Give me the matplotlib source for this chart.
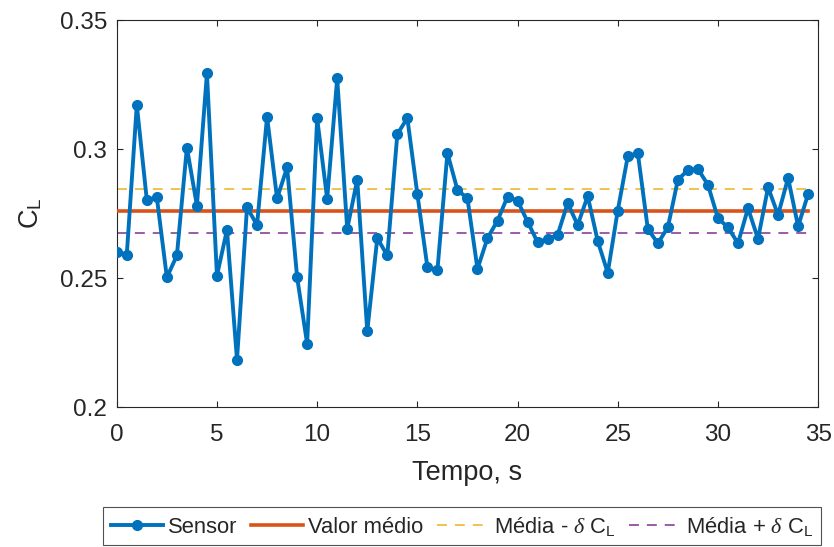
import numpy as np
import matplotlib
matplotlib.use("Agg")
import matplotlib.pyplot as plt

plt.rcParams['font.family'] = ['Liberation Sans', 'DejaVu Sans']
plt.rcParams['mathtext.fontset'] = 'custom'
plt.rcParams['mathtext.rm'] = 'Liberation Sans'
plt.rcParams['mathtext.it'] = 'Liberation Serif:italic'

# series do sensor (CL ao longo do tempo)
tempo = np.arange(0, 34.51, 0.5)
cl_sensor = [
    0.2603, 0.2591, 0.3171, 0.2803, 0.2813, 0.2503, 0.2588, 0.3006, 0.2781, 0.3294,
    0.2510, 0.2687, 0.2184, 0.2774, 0.2706, 0.3125, 0.2809, 0.2929, 0.2504, 0.2246,
    0.3119, 0.2807, 0.3274, 0.2691, 0.2881, 0.2294, 0.2655, 0.2588, 0.3058, 0.3120,
    0.2826, 0.2543, 0.2530, 0.2985, 0.2842, 0.2809, 0.2536, 0.2655, 0.2723, 0.2816,
    0.2800, 0.2719, 0.2639, 0.2652, 0.2668, 0.2791, 0.2706, 0.2818, 0.2644, 0.2521,
    0.2762, 0.2972, 0.2985, 0.2691, 0.2635, 0.2697, 0.2881, 0.2919, 0.2923, 0.2862,
    0.2732, 0.2697, 0.2635, 0.2771, 0.2652, 0.2852, 0.2745, 0.2888, 0.2701, 0.2826,
]
cl_medio = 0.2759
cl_menos = 0.2844   # "Média - delta CL"
cl_mais = 0.2674    # "Média + delta CL"

x_ticks = [0, 5, 10, 15, 20, 25, 30, 35]
y_ticks = [0.2, 0.25, 0.3, 0.35]
y_labels = ['0.2', '0.25', '0.3', '0.35']

azul = '#0072BD'
laranja = '#D95319'
amarelo = '#EDB120'
roxo = '#7E2F8E'
cinza = '#262626'

fig = plt.figure(figsize=(8.34, 5.47), dpi=100)
ax = fig.add_axes([0.14, 0.2554, 0.841, 0.708])

ax.plot(tempo, cl_sensor, '-o', color=azul, lw=2.8, ms=7, label='Sensor', zorder=4)
ax.plot([tempo[0], tempo[-1]], [cl_medio] * 2, color=laranja, lw=2.6,
        label='Valor médio', zorder=3)
ax.plot([tempo[0], tempo[-1]], [cl_menos] * 2, color=amarelo, lw=1.1,
        dashes=(6.5, 5.2), label=r'Média - $\delta$ C$_{\mathrm{L}}$', zorder=2)
ax.plot([tempo[0], tempo[-1]], [cl_mais] * 2, color=roxo, lw=1.1,
        dashes=(6.5, 5.2), label=r'Média + $\delta$ C$_{\mathrm{L}}$', zorder=2)

ax.set_xlim(0, 35)
ax.set_ylim(0.2, 0.35)
ax.set_xticks(x_ticks)
ax.set_yticks(y_ticks)
ax.set_yticklabels(y_labels)
ax.tick_params(direction='in', length=4, width=0.8, colors=cinza,
               top=True, right=True, labelsize=17.5)
ax.tick_params(axis='x', pad=12)
ax.tick_params(axis='y', pad=7)
for sp in ax.spines.values():
    sp.set_color(cinza)
    sp.set_linewidth(0.8)

ax.set_xlabel('Tempo, s', fontsize=19.5, color=cinza, labelpad=10)
ax.set_ylabel(r'C$_{\mathrm{L}}$', fontsize=19.5, color=cinza, labelpad=11)

leg = fig.legend(loc='upper center', bbox_to_anchor=(0.554, 1 - 507 / 547), ncol=4,
                 fontsize=15.8, frameon=True, fancybox=False, handlelength=2.4,
                 handletextpad=0.2, columnspacing=0.62, borderpad=0.35,
                 borderaxespad=0)
leg.get_frame().set_edgecolor(cinza)
leg.get_frame().set_linewidth(0.8)
for t in leg.get_texts():
    t.set_color(cinza)

fig.savefig('out.png', dpi=100)
